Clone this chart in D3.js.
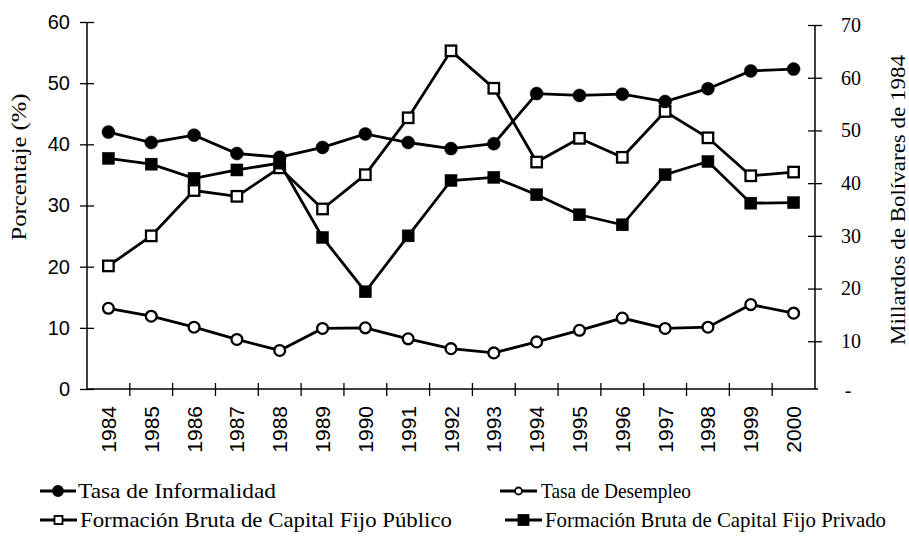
<!DOCTYPE html>
<html>
<head>
<meta charset="utf-8">
<script src="https://cdn.jsdelivr.net/npm/d3@7"></script>
<style>
  body { margin: 0; background: #fff; }
</style>
</head>
<body>
<div id="chart"></div>
<script>
// data
var years = ["1984","1985","1986","1987","1988","1989","1990","1991","1992",
             "1993","1994","1995","1996","1997","1998","1999","2000"];
// percent, left axis
var informalidad = [42.0,40.3,41.5,38.5,37.9,39.5,41.7,40.3,39.3,40.1,48.3,48.0,48.2,47.0,49.1,52.0,52.3];
var desempleo    = [13.2,11.9,10.1,8.1,6.3,9.9,10.0,8.2,6.6,5.9,7.7,9.6,11.6,9.9,10.1,13.8,12.4];
// billions of 1984 bolivares, right axis
var publico = [24.3,30.0,38.6,37.5,42.9,35.1,41.6,52.4,65.1,58.0,44.0,48.5,44.9,53.6,48.6,41.4,42.1];
var privado = [44.7,43.6,40.9,42.5,43.8,29.7,19.4,30.0,40.5,41.1,37.8,34.0,32.1,41.6,44.1,36.2,36.3];

var leftTicks = [0,10,20,30,40,50,60];
var rightTicks = [10,20,30,40,50,60,70];
var rightZeroLabel = "-";

var width = 909, height = 543;
var plot = {left: 87, right: 815, top: 22, bottom: 389};
var serif = "'Liberation Serif', 'Times New Roman', serif";
var sans = "'Liberation Sans', Arial, sans-serif";

var svg = d3.select("#chart")
  .append("svg")
    .attr("width", width)
    .attr("height", height)
    .style("font-family", serif);

// scales
var xBand = d3.scaleBand()
  .domain(years)
  .range([plot.left, plot.right]);
var x = function(d) { return xBand(d) + xBand.bandwidth() / 2; };

var yL = d3.scaleLinear().domain([0, 60]).range([plot.bottom, plot.top]);
var yR = d3.scaleLinear().domain([0, 70]).range([394, 25]);

// left axis
var gL = svg.append("g")
  .attr("transform", "translate(" + plot.left + ",0)")
  .call(d3.axisLeft(yL).tickValues(leftTicks).tickSize(6).tickPadding(10));
gL.select(".domain").attr("d", "M0," + yL(60) + "V" + plot.bottom)
  .attr("stroke-width", 1.5);
gL.selectAll(".tick line").attr("x1", 7).attr("x2", -7).attr("stroke-width", 1.3);
gL.selectAll(".tick text")
  .attr("x", -17)
  .style("font-family", sans)
  .style("font-size", "20px")
  .attr("fill", "#000");

// right axis
var gR = svg.append("g")
  .attr("transform", "translate(" + plot.right + ",0)")
  .call(d3.axisRight(yR).tickValues(rightTicks).tickSize(6));
gR.select(".domain").attr("d", "M0," + yR(70) + "V" + plot.bottom)
  .attr("stroke-width", 1.5);
gR.selectAll(".tick line").attr("x1", -7).attr("x2", 7).attr("stroke-width", 1.3);
gR.selectAll(".tick text")
  .attr("x", 26)
  .style("font-family", serif)
  .style("font-size", "20px")
  .attr("fill", "#000");
svg.append("text")
  .attr("x", plot.right + 33)
  .attr("y", yR(0) + 3)
  .attr("text-anchor", "middle")
  .style("font-family", serif)
  .style("font-size", "20px")
  .text(rightZeroLabel);

// x axis: labels at centres, ticks between years
var gX = svg.append("g")
  .attr("transform", "translate(0," + plot.bottom + ")");
gX.append("line")
  .attr("x1", plot.left).attr("x2", plot.right + 3)
  .attr("stroke", "#000").attr("stroke-width", 1.5);
gX.selectAll(".xtick")
  .data(years.slice(1))
  .enter()
  .append("line")
    .attr("x1", function(d) { return xBand(d); })
    .attr("x2", function(d) { return xBand(d); })
    .attr("y1", -6).attr("y2", 7)
    .attr("stroke", "#000").attr("stroke-width", 1.3);
gX.selectAll(".xlabel")
  .data(years)
  .enter()
  .append("text")
    .attr("transform", function(d) {
      return "translate(" + (x(d) + 7.5) + ",17)rotate(-90)";
    })
    .attr("text-anchor", "end")
    .style("font-family", sans)
    .style("font-size", "21px")
    .text(function(d) { return d; });

// axis titles
svg.append("text")
  .attr("transform", "translate(26,167)rotate(-90)")
  .attr("text-anchor", "middle")
  .style("font-family", serif)
  .style("font-size", "21px")
  .attr("textLength", 147)
  .attr("lengthAdjust", "spacingAndGlyphs")
  .text("Porcentaje (%)");
svg.append("text")
  .attr("transform", "translate(905,200)rotate(-90)")
  .attr("text-anchor", "middle")
  .style("font-family", serif)
  .style("font-size", "22px")
  .attr("textLength", 290)
  .attr("lengthAdjust", "spacingAndGlyphs")
  .text("Millardos de Bolívares de 1984");

// series
var series = [
  {name: "Formación Bruta de Capital Fijo Público", values: publico, y: yR, marker: "square", fill: "#fff"},
  {name: "Formación Bruta de Capital Fijo Privado", values: privado, y: yR, marker: "square", fill: "#000"},
  {name: "Tasa de Desempleo", values: desempleo, y: yL, marker: "circle", fill: "#fff"},
  {name: "Tasa de Informalidad", values: informalidad, y: yL, marker: "circle", fill: "#000"}
];

function drawMarker(g, s, cx, cy) {
  if (s.marker === "circle") {
    g.append("circle")
      .attr("cx", cx).attr("cy", cy)
      .attr("r", s.fill === "#000" ? 6.5 : 5.4)
      .attr("fill", s.fill)
      .attr("stroke", "#000")
      .attr("stroke-width", s.fill === "#000" ? 0.5 : 2.3);
  } else {
    var a = s.fill === "#000" ? 12 : 10.5;
    g.append("rect")
      .attr("x", cx - a / 2).attr("y", cy - a / 2)
      .attr("width", a).attr("height", a)
      .attr("fill", s.fill)
      .attr("stroke", "#000")
      .attr("stroke-width", s.fill === "#000" ? 0.5 : 2.3);
  }
}

series.forEach(function(s) {
  var line = d3.line()
    .x(function(d, i) { return x(years[i]); })
    .y(function(d) { return s.y(d); });
  svg.append("path")
    .datum(s.values)
    .attr("d", line)
    .attr("fill", "none")
    .attr("stroke", "#000")
    .attr("stroke-width", 2.8);
  var g = svg.append("g");
  s.values.forEach(function(v, i) {
    drawMarker(g, s, x(years[i]), s.y(v));
  });
});

// legend
var legendItems = [
  {s: series[3], x: 40, y: 491, lw: 36, tx: 78, tl: 198},
  {s: series[2], x: 500, y: 491, lw: 37, tx: 541, tl: 150},
  {s: series[0], x: 40, y: 520, lw: 37, tx: 80, tl: 372},
  {s: series[1], x: 505, y: 520, lw: 37, tx: 545, tl: 341}
];
legendItems.forEach(function(it) {
  var g = svg.append("g");
  g.append("line")
    .attr("x1", it.x).attr("x2", it.x + it.lw)
    .attr("y1", it.y).attr("y2", it.y)
    .attr("stroke", "#000").attr("stroke-width", 2.8);
  var mk = Object.assign({}, it.s);
  drawMarker(g, mk, it.x + it.lw / 2, it.y);
  g.selectAll("circle").attr("r", mk.fill === "#000" ? 5 : 3.5).attr("stroke-width", 1.8);
  g.selectAll("rect").each(function() {
    var a = mk.fill === "#000" ? 10 : 8;
    d3.select(this).attr("x", it.x + it.lw / 2 - a / 2).attr("y", it.y - a / 2)
      .attr("width", a).attr("height", a).attr("stroke-width", 1.8);
  });
  g.append("text")
    .attr("x", it.tx)
    .attr("y", it.y + 7)
    .style("font-family", serif)
    .style("font-size", "21px")
    .attr("textLength", it.tl)
    .attr("lengthAdjust", "spacingAndGlyphs")
    .text(it.s.name);
});
</script>
</body>
</html>
